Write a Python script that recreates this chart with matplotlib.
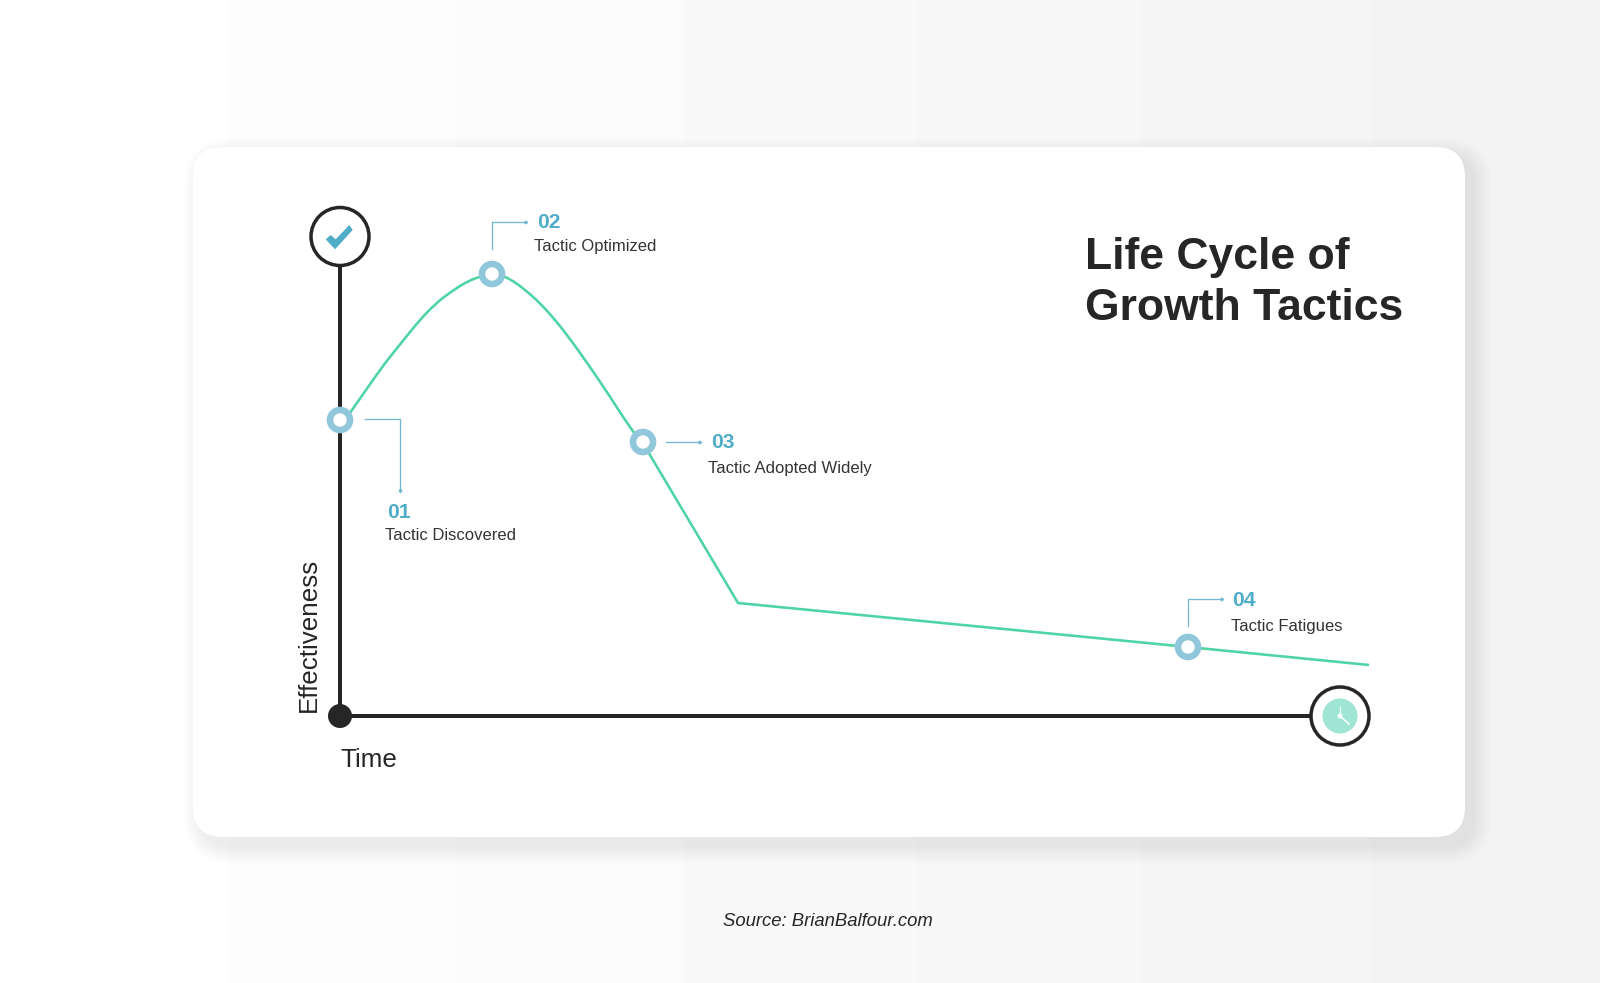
import matplotlib
matplotlib.use("Agg")
import matplotlib.pyplot as plt
import numpy as np
from matplotlib.patches import Circle, FancyBboxPatch, Polygon, PathPatch
from matplotlib.path import Path

# everything is in reference pixels, y going down
hump_x = [340, 350, 368, 385, 402, 418, 435, 452, 468, 482, 492, 500, 510, 523, 540, 557, 573, 590, 607, 623, 637, 647]
hump_y = [427, 413, 387, 363, 342, 322, 304, 291, 281, 276, 274, 275, 279, 288, 303, 322, 343, 367, 392, 417, 437, 450]
tail_x = [738, 1188, 1369]
tail_y = [603, 647, 665]
stage_x = [340, 492, 643, 1188]
stage_y = [420, 274, 442, 647]
stage_nums = ["01", "02", "03", "04"]
stage_names = ["Tactic Discovered", "Tactic Optimized", "Tactic Adopted Widely", "Tactic Fatigues"]
num_x = [399, 549, 723, 1244]
num_y = [512, 223, 443, 601]
name_x = [385, 534, 708, 1231]
name_y = [535, 247, 468, 626]
leader_x = [[365, 400, 400], [492, 492, 526], [666, 700], [1188, 1188, 1222]]
leader_y = [[419, 419, 491], [249, 222, 222], [442, 442], [626, 599, 599]]

BLACK = "#262626"
GREEN = "#4fd4a4"
RING = "#91c7db"
BLUE = "#4fadc8"
LEADER = "#72b9d0"
px = 0.72  # one pixel in points at dpi 100

plt.rcParams["font.family"] = ["Liberation Sans", "DejaVu Sans"]

fig = plt.figure(figsize=(16, 9.83), dpi=100)
ax = fig.add_axes([0, 0, 1, 1])
ax.set_xlim(0, 1600)
ax.set_ylim(983, 0)
ax.axis("off")

# page background, white going to light grey in broad steps
bg = np.linspace(1.0, 0.95, 7).reshape(1, -1)
ax.imshow(bg, extent=(0, 1600, 983, 0), cmap="gray", vmin=0, vmax=1, aspect="auto", zorder=0)

# soft card shadow
for grow in range(36, 0, -2):
    ax.add_patch(FancyBboxPatch((193 + 9 - grow / 2, 147 + 9 - grow / 2), 1272 + grow, 690 + grow,
                                boxstyle=f"round,pad=0,rounding_size={30 + grow / 2}",
                                fc="black", ec="none", alpha=0.005, zorder=1))
ax.add_patch(FancyBboxPatch((193, 147), 1272, 690, boxstyle="round,pad=0,rounding_size=30",
                            fc="white", ec="none", zorder=2))

# axes
ax.plot([340, 340], [236, 716], color=BLACK, lw=4 * px, solid_capstyle="butt", zorder=3)
ax.plot([340, 1340], [716, 716], color=BLACK, lw=4 * px, solid_capstyle="butt", zorder=3)
ax.add_patch(Circle((340, 716), 12, fc=BLACK, ec="none", zorder=4))

# check mark end of the y axis
ax.add_patch(Circle((340, 236.5), 29, fc="white", ec=BLACK, lw=3.5 * px, zorder=4))
ax.add_patch(Polygon([(325.7, 239.3), (330.7, 235), (335.7, 239.3), (349.3, 225), (352.7, 230), (335, 249.3)],
                     fc=BLUE, ec="none", zorder=5))

# clock end of the x axis
ax.add_patch(Circle((1340, 716), 29, fc="white", ec=BLACK, lw=3.5 * px, zorder=4))
ax.add_patch(Circle((1340, 716), 17.5, fc="#9ee6d3", ec="none", zorder=5))
ax.plot([1340, 1340], [716, 707], color="white", lw=1.2 * px, zorder=6)
ax.plot([1340, 1349], [716, 724], color="white", lw=1.5 * px, zorder=6)
ax.add_patch(Circle((1340, 716), 2.5, fc="white", ec="none", zorder=6))

# the curve: quadratic pieces through the hump, then straight lines for the tail
verts = [(hump_x[0], hump_y[0])]
codes = [Path.MOVETO]
for i in range(1, len(hump_x) - 1):
    verts += [(hump_x[i], hump_y[i]), ((hump_x[i] + hump_x[i + 1]) / 2, (hump_y[i] + hump_y[i + 1]) / 2)]
    codes += [Path.CURVE3, Path.CURVE3]
verts.append((hump_x[-1], hump_y[-1]))
codes.append(Path.LINETO)
for tx, ty in zip(tail_x, tail_y):
    verts.append((tx, ty))
    codes.append(Path.LINETO)
ax.add_patch(PathPatch(Path(verts, codes), fc="none", ec=GREEN, lw=2.6 * px, joinstyle="round", zorder=6))

for sx, sy in zip(stage_x, stage_y):
    ax.add_patch(Circle((sx, sy), 10, fc="white", ec=RING, lw=6.6 * px, zorder=7))

for i in range(len(stage_nums)):
    ax.plot(leader_x[i], leader_y[i], color=LEADER, lw=1.3 * px, zorder=3)
    tip_x, tip_y = leader_x[i][-1], leader_y[i][-1]
    ax.plot([tip_x], [tip_y], marker="v" if i == 0 else ">", ms=2, color=LEADER, zorder=3)
    ax.text(num_x[i], num_y[i], stage_nums[i], color=BLUE, fontsize=21 * px, fontweight="bold",
            ha="center", va="center", zorder=8)
    ax.text(name_x[i], name_y[i], stage_names[i], color="#333333", fontsize=16.6 * px, ha="left",
            va="center", zorder=8)

ax.text(1085, 257, "Life Cycle of", color=BLACK, fontsize=44.5 * px, fontweight="bold", va="center", zorder=8)
ax.text(1085, 309, "Growth Tactics", color=BLACK, fontsize=44.5 * px, fontweight="bold", va="center", zorder=8)
ax.text(309, 712, "Effectiveness", color=BLACK, fontsize=26 * px, rotation=90, ha="center", va="bottom", zorder=8)
ax.text(340, 760, "Time", color=BLACK, fontsize=26 * px, ha="left", va="center", zorder=8)
ax.text(828, 922, "Source: BrianBalfour.com", color=BLACK, fontsize=18.5 * px, style="italic",
        ha="center", va="center", zorder=8)

fig.savefig("out.png", dpi=100)
